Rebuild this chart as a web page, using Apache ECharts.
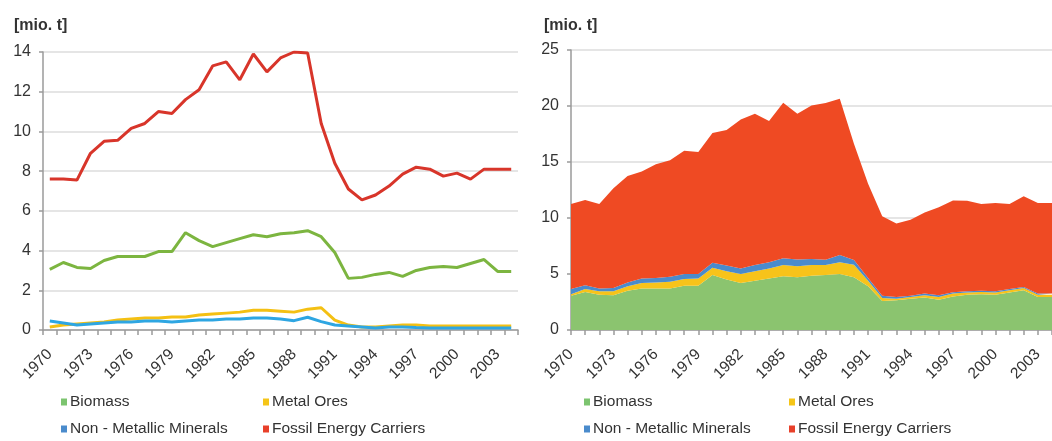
<!DOCTYPE html>
<html>
<head>
<meta charset="utf-8">
<script src="https://cdn.jsdelivr.net/npm/echarts@6/dist/echarts.min.js"></script>
<style>
html,body{margin:0;padding:0;background:#fff;overflow:hidden;}
#c{width:1052px;height:441px;}
</style>
</head>
<body>
<div id="c"></div>
<script>
const years = [];
for (let y = 1970; y <= 2004; y++) years.push(String(y));

const biomass = [3.05,3.4,3.15,3.1,3.5,3.7,3.7,3.7,3.95,3.95,4.9,4.5,4.2,4.4,4.6,4.8,4.7,4.85,4.9,5.0,4.7,3.9,2.6,2.65,2.8,2.9,2.7,3.0,3.15,3.2,3.15,3.35,3.55,2.95,2.95];
const metalOres = [0.15,0.25,0.3,0.35,0.4,0.5,0.55,0.6,0.6,0.65,0.65,0.75,0.8,0.85,0.9,1.0,1.0,0.95,0.9,1.05,1.12,0.5,0.25,0.15,0.15,0.2,0.25,0.25,0.2,0.2,0.2,0.2,0.2,0.2,0.2];
const nonMetallic = [0.45,0.35,0.25,0.3,0.35,0.4,0.4,0.45,0.45,0.4,0.45,0.5,0.5,0.55,0.55,0.6,0.6,0.55,0.47,0.64,0.42,0.25,0.2,0.15,0.1,0.15,0.15,0.12,0.1,0.1,0.1,0.1,0.1,0.1,0.1];
const fossil = [7.6,7.6,7.55,8.9,9.5,9.55,10.15,10.4,11.0,10.9,11.6,12.1,13.3,13.5,12.6,13.9,13.0,13.7,14.0,13.95,10.4,8.4,7.1,6.55,6.8,7.25,7.85,8.2,8.1,7.75,7.9,7.6,8.1,8.1,8.1];

const names = ['Biomass','Metal Ores','Non - Metallic Minerals','Fossil Energy Carriers'];
const lineColors = ['#7cb540','#f4c013','#2ea6e2','#d8352a'];
const areaColors = ['#8bc46f','#f7c31a','#4a8bcc','#ef4a23'];
const legendColors = ['#7cc46f','#f5c518','#4a8bcc','#e8402a'];
const values = [biomass, metalOres, nonMetallic, fossil];

const txt = '#333333';
const fontFam = 'Liberation Sans, Arial, sans-serif';

function xAxis(gridIndex, gap) {
  return {
    type: 'category', gridIndex: gridIndex, data: years, boundaryGap: gap,
    axisLine: {show: true, lineStyle: {color: '#9a9a9a', width: 1.5}},
    axisTick: {show: true, interval: 0, length: 5, lineStyle: {color: '#9a9a9a', width: 1.5}},
    axisLabel: {interval: 2, rotate: 45, margin: 22, color: txt, fontSize: 15.5, fontFamily: fontFam},
    splitLine: {show: false}
  };
}
function yAxis(gridIndex, max, interval) {
  return {
    type: 'value', gridIndex: gridIndex, min: 0, max: max, interval: interval,
    axisLine: {show: true, lineStyle: {color: '#9a9a9a', width: 1.5}},
    axisTick: {show: true, length: 4, lineStyle: {color: '#9a9a9a', width: 1.5}},
    axisLabel: {margin: 12, color: txt, fontSize: 16, fontFamily: fontFam},
    splitLine: {show: true, lineStyle: {color: '#dcdcdc', width: 1.5}}
  };
}

const series = [];
names.forEach((n, i) => {
  series.push({
    name: n, type: 'line', xAxisIndex: 0, yAxisIndex: 0, data: values[i],
    symbol: 'none', lineStyle: {width: 3, color: lineColors[i]}, itemStyle: {color: lineColors[i]}
  });
});
names.forEach((n, i) => {
  series.push({
    name: n, type: 'line', xAxisIndex: 1, yAxisIndex: 1, data: values[i], stack: 'total',
    symbol: 'none', lineStyle: {width: 0}, areaStyle: {color: areaColors[i], opacity: 1},
    itemStyle: {color: areaColors[i]}
  });
});

const legendPos = [
  [61, 394], [263, 394], [61, 421], [263, 421],
  [584, 394], [789, 394], [584, 421], [789, 421]
];
const legends = legendPos.map((p, k) => ({
  left: p[0], top: p[1], padding: 0, selectedMode: false,
  itemWidth: 6, itemHeight: 7, icon: 'rect',
  textStyle: {color: txt, fontSize: 15.5, fontFamily: fontFam, padding: [0,0,0,-2]},
  data: [{name: names[k % 4], itemStyle: {color: legendColors[k % 4]}}]
}));

const chart = echarts.init(document.getElementById('c'), null, {renderer: 'canvas'});
chart.setOption({
  animation: false,
  backgroundColor: '#ffffff',
  title: [
    {text: '[mio. t]', left: 9, top: 13, textStyle: {fontSize: 16, fontWeight: 'bold', color: txt, fontFamily: fontFam}},
    {text: '[mio. t]', left: 539, top: 13, textStyle: {fontSize: 16, fontWeight: 'bold', color: txt, fontFamily: fontFam}}
  ],
  grid: [
    {left: 43, top: 52, width: 475, height: 278},
    {left: 571, top: 50, width: 490, height: 280}
  ],
  xAxis: [xAxis(0, true), xAxis(1, false)],
  yAxis: [yAxis(0, 14, 2), yAxis(1, 25, 5)],
  legend: legends,
  series: series
});
</script>
</body>
</html>
